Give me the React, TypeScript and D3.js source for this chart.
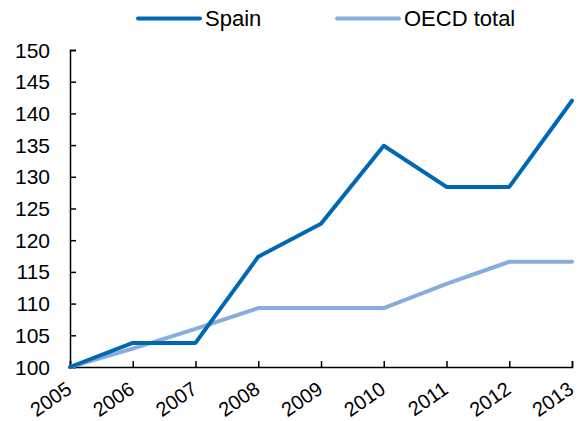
import React, { useEffect, useRef } from 'react';
import * as d3 from 'd3';

const years = [2005, 2006, 2007, 2008, 2009, 2010, 2011, 2012, 2013];
const spain = [100, 103.8, 103.8, 117.4, 122.6, 134.9, 128.4, 128.4, 142];
const oecd = [100, 102.9, 106, 109.3, 109.3, 109.3, 113.1, 116.6, 116.6];
const yTicks = [100, 105, 110, 115, 120, 125, 130, 135, 140, 145, 150];

const series = [
  { name: 'Spain', values: spain, color: '#0068B3' },
  { name: 'OECD total', values: oecd, color: '#88ADDD' },
];

export default function App() {
  const ref = useRef<SVGSVGElement>(null);

  useEffect(() => {
    const svg = d3.select(ref.current);
    svg.selectAll('*').remove();

    const left = 70, right = 572, top = 50, bottom = 367;
    const x = d3.scalePoint<number>().domain(years).range([left, right]);
    const y = d3.scaleLinear().domain([100, 150]).range([bottom, top]);
    const font = 'Arial, "Liberation Sans", sans-serif';

    // y axis, ticks pointing inward
    const yAxis = svg.append('g')
      .attr('transform', `translate(${left},0)`)
      .call(d3.axisRight(y).tickValues(yTicks).tickSize(6).tickFormat(() => ''));
    yAxis.select('.domain').attr('stroke', '#000').attr('stroke-width', 1.5);
    yAxis.selectAll('.tick line').attr('stroke', '#000').attr('stroke-width', 1.5);

    svg.append('g')
      .selectAll('text')
      .data(yTicks)
      .enter()
      .append('text')
      .attr('x', 50)
      .attr('y', (d) => y(d))
      .attr('dy', '0.36em')
      .attr('text-anchor', 'end')
      .style('font-family', font)
      .style('font-size', '21px')
      .attr('fill', '#000')
      .text((d) => d);

    // x axis, ticks pointing inward
    const xAxis = svg.append('g')
      .attr('transform', `translate(0,${bottom})`)
      .call(d3.axisTop(x).tickSize(6).tickFormat(() => ''));
    xAxis.select('.domain').attr('stroke', '#000').attr('stroke-width', 1.5);
    xAxis.selectAll('.tick line').attr('stroke', '#000').attr('stroke-width', 1.5);

    svg.append('g')
      .selectAll('text')
      .data(years)
      .enter()
      .append('text')
      .attr('transform', (d) => `translate(${x(d)! + 3},${bottom + 25}) rotate(-35)`)
      .attr('text-anchor', 'end')
      .style('font-family', font)
      .style('font-size', '20px')
      .attr('fill', '#000')
      .text((d) => d);

    // lines
    const line = d3.line<number>()
      .x((_, i) => x(years[i])!)
      .y((d) => y(d));

    [...series].reverse().forEach((s) => {
      svg.append('path')
        .datum(s.values)
        .attr('d', line)
        .attr('fill', 'none')
        .attr('stroke', s.color)
        .attr('stroke-width', 4)
        .attr('stroke-linejoin', 'round')
        .attr('stroke-linecap', 'round');
    });

    // legend
    const legendX = [138, 337];
    series.forEach((s, i) => {
      const g = svg.append('g').attr('transform', `translate(${legendX[i]},18.5)`);
      g.append('line')
        .attr('x1', 0).attr('x2', 62)
        .attr('stroke', s.color)
        .attr('stroke-width', 4)
        .attr('stroke-linecap', 'round');
      g.append('text')
        .attr('x', 67)
        .attr('dy', '0.36em')
        .style('font-family', font)
        .style('font-size', '22px')
        .attr('fill', '#000')
        .text(s.name);
    });
  }, []);

  return (
    <svg
      ref={ref}
      width={582}
      height={421}
      style={{ position: 'absolute', left: 0, top: 0, background: '#fff' }}
    />
  );
}
